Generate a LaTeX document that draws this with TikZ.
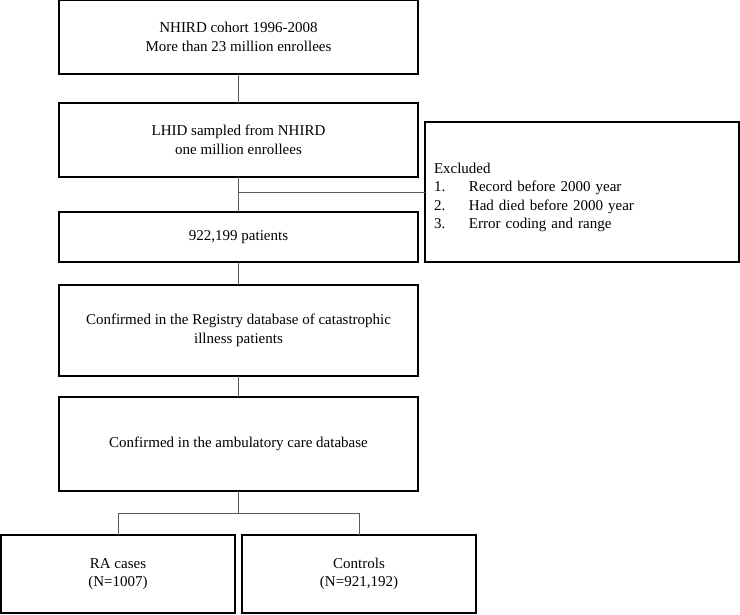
\documentclass[tikz,border=0pt]{standalone}
\usepackage{fontspec}
\setmainfont{Liberation Serif}
\usetikzlibrary{positioning}

\begin{document}
\begin{tikzpicture}[x=1pt, y=1pt,
  node distance=29pt,
  box/.style={rectangle, draw, line width=2.4pt, outer sep=0pt, inner sep=0pt, minimum width=359pt, minimum height=#1, font=\fontsize{15}{18.5}\selectfont, align=center},
  box/.default=74pt,
  exbox/.style={rectangle, draw, line width=2.4pt, outer sep=0pt, inner sep=9pt, minimum width=314pt, minimum height=140pt, text width=296pt, text height=21pt, font=\fontsize{15}{18.5}\selectfont, align=left},
  conn/.style={draw=black!65, line width=0.9pt},
]
  \useasboundingbox (0,0) rectangle (740,-614);

  % Main column
  \node[box] (nhird) at (238.5,-37) {NHIRD cohort 1996-2008\\More than 23 million enrollees};
  \node[box, below=29pt of nhird] (lhid) {LHID sampled from NHIRD\\one million enrollees};
  \node[box=50pt, below=35pt of lhid] (pats) {922,199 patients};
  \node[box=91pt, below=23pt of pats] (reg) {Confirmed in the Registry database of catastrophic\\illness patients};
  \node[box=94pt, below=21pt of reg] (amb) {Confirmed in the ambulatory care database};

  % Exclusions
  \node[exbox, anchor=south west] (excl) at ([xshift=7pt]pats.south east)
    {Excluded\\
     \makebox[35pt][l]{1.}Record before 2000 year\\
     \makebox[35pt][l]{2.}Had died before 2000 year\\
     \makebox[35pt][l]{3.}Error coding and range};

  % Groups
  \node[box=78pt, minimum width=234pt, below=44pt of amb, xshift=-120.5pt] (ra) {RA cases\\(N=1007)};
  \node[box=78pt, minimum width=234pt, right=7pt of ra] (ctrl) {Controls\\(N=921,192)};

  % Connectors
  \draw[conn] (nhird) -- (lhid);
  \draw[conn] (lhid) -- (pats);
  \draw[conn] (pats.north |- excl.west) -- (excl.west);
  \draw[conn] (pats) -- (reg);
  \draw[conn] (reg) -- (amb);
  \draw[conn] (amb.south) -- ++(0,-22pt) -| (ra.north);
  \draw[conn] (amb.south) -- ++(0,-22pt) -| (ctrl.north);

\end{tikzpicture}
\end{document}
